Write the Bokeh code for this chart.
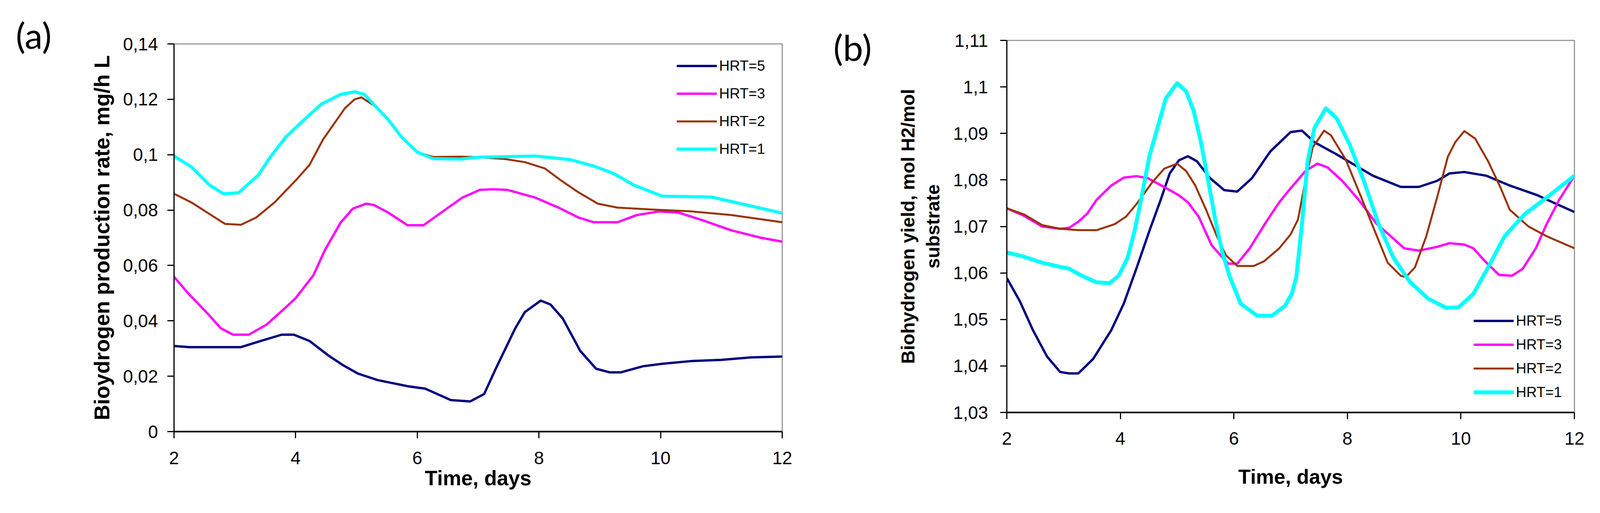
from bokeh.plotting import figure
from bokeh.models import FixedTicker, Legend, LegendItem, Range1d
from bokeh.embed import file_html
from bokeh.resources import INLINE

# ---------------- data: panel (a) ----------------
days_a_hrt5 = [2.0, 2.26, 3.1, 3.42, 3.77, 3.97, 4.23, 4.55, 4.77, 5.03, 5.35, 5.84, 6.13, 6.55, 6.87,
               7.1, 7.29, 7.61, 7.77, 8.03, 8.19, 8.39, 8.68, 8.94, 9.16, 9.35, 9.71, 10.03, 10.52,
               11.0, 11.48, 12.0]
rate_hrt5 = [0.0309, 0.0305, 0.0305, 0.0327, 0.035, 0.035, 0.0327, 0.0273, 0.0241, 0.0209, 0.0186,
             0.0164, 0.0155, 0.0114, 0.0109, 0.0136, 0.0227, 0.0373, 0.0432, 0.0473, 0.0459, 0.0409,
             0.0291, 0.0227, 0.0214, 0.0214, 0.0236, 0.0245, 0.0255, 0.0259, 0.0268, 0.0271]

days_a_hrt3 = [2.0, 2.23, 2.55, 2.77, 2.97, 3.23, 3.52, 3.87, 4.0, 4.29, 4.48, 4.74, 4.94, 5.16, 5.29,
               5.52, 5.84, 6.1, 6.42, 6.74, 7.03, 7.23, 7.48, 7.94, 8.32, 8.65, 8.9, 9.29, 9.61, 9.97,
               10.29, 10.68, 11.16, 11.65, 12.0]
rate_hrt3 = [0.0559, 0.05, 0.0427, 0.0373, 0.035, 0.035, 0.0386, 0.0455, 0.0482, 0.0564, 0.0655,
             0.0755, 0.0805, 0.0823, 0.0818, 0.0791, 0.0745, 0.0745, 0.0795, 0.0845, 0.0873, 0.0875,
             0.0873, 0.0845, 0.0809, 0.0773, 0.0756, 0.0756, 0.0782, 0.0795, 0.0791, 0.0764, 0.0727,
             0.07, 0.0686]

days_a_hrt2 = [2.0, 2.29, 2.61, 2.84, 3.1, 3.35, 3.65, 4.03, 4.23, 4.45, 4.68, 4.81, 4.97, 5.08, 5.32,
               5.52, 5.74, 6.0, 6.26, 6.71, 7.0, 7.45, 7.77, 8.1, 8.35, 8.65, 8.97, 9.29, 9.87, 10.52,
               11.16, 12.0]
rate_hrt2 = [0.0859, 0.0827, 0.0782, 0.075, 0.0747, 0.0773, 0.0827, 0.0914, 0.0964, 0.1055, 0.1127,
             0.1168, 0.12, 0.1207, 0.1173, 0.1127, 0.1064, 0.1009, 0.0992, 0.0993, 0.0991, 0.0984,
             0.0973, 0.095, 0.0909, 0.0864, 0.0823, 0.0809, 0.0802, 0.0795, 0.0782, 0.0756]

days_a_hrt1 = [2.0, 2.29, 2.58, 2.81, 3.06, 3.39, 3.58, 3.84, 4.1, 4.42, 4.74, 4.97, 5.13, 5.32, 5.52,
               5.74, 6.0, 6.26, 6.71, 7.03, 7.94, 8.52, 8.9, 9.23, 9.55, 10.03, 10.84, 11.32, 12.0]
rate_hrt1 = [0.0995, 0.0955, 0.0891, 0.0859, 0.0862, 0.0927, 0.0991, 0.1064, 0.1118, 0.1182, 0.1218,
             0.1227, 0.1218, 0.1173, 0.1127, 0.1064, 0.1009, 0.0986, 0.0984, 0.0991, 0.0995, 0.0982,
             0.0959, 0.0932, 0.0891, 0.085, 0.0847, 0.0823, 0.0789]

# ---------------- data: panel (b) ----------------
days_b_hrt5 = [2.0, 2.23, 2.46, 2.71, 2.94, 3.1, 3.26, 3.52, 3.84, 4.06, 4.29, 4.51, 4.71, 4.87, 5.03,
               5.19, 5.35, 5.58, 5.83, 6.06, 6.32, 6.64, 7.0, 7.2, 7.42, 7.81, 8.13, 8.45, 8.94, 9.26,
               9.58, 9.8, 10.06, 10.45, 10.86, 11.35, 11.67, 12.0]
yield_hrt5 = [1.0589, 1.0539, 1.0477, 1.042, 1.0387, 1.0384, 1.0384, 1.0415, 1.0477, 1.0534, 1.0612,
              1.069, 1.0757, 1.0814, 1.0842, 1.0851, 1.084, 1.0804, 1.0778, 1.0775, 1.0804, 1.0861,
              1.0903, 1.0906, 1.0881, 1.0855, 1.0832, 1.0809, 1.0785, 1.0785, 1.0798, 1.0814, 1.0817,
              1.0809, 1.0788, 1.0767, 1.0749, 1.0731]

days_b_hrt3 = [2.0, 2.3, 2.62, 2.94, 3.1, 3.26, 3.42, 3.58, 3.84, 4.06, 4.29, 4.48, 4.77, 5.03, 5.19,
               5.38, 5.61, 5.9, 6.06, 6.28, 6.57, 6.8, 7.0, 7.26, 7.47, 7.65, 7.91, 8.2, 8.52, 8.81,
               9.0, 9.26, 9.58, 9.8, 10.06, 10.22, 10.41, 10.67, 10.9, 11.09, 11.32, 11.51, 11.73, 12.0]
yield_hrt3 = [1.0739, 1.0723, 1.07, 1.0695, 1.0697, 1.071, 1.0728, 1.0757, 1.0788, 1.0805, 1.0808,
              1.0804, 1.0785, 1.0767, 1.0752, 1.0721, 1.0659, 1.062, 1.062, 1.0653, 1.071, 1.0752,
              1.0782, 1.0819, 1.0835, 1.0827, 1.0798, 1.0757, 1.0705, 1.0674, 1.0653, 1.0648, 1.0656,
              1.0664, 1.0661, 1.0653, 1.0627, 1.0596, 1.0594, 1.0609, 1.0653, 1.0705, 1.0757, 1.0809]

days_b_hrt2 = [2.0, 2.3, 2.62, 2.94, 3.26, 3.58, 3.9, 4.1, 4.29, 4.55, 4.77, 5.0, 5.16, 5.32, 5.51,
               5.7, 5.86, 6.06, 6.35, 6.53, 6.8, 7.0, 7.13, 7.26, 7.39, 7.59, 7.71, 7.97, 8.23, 8.45,
               8.71, 8.94, 9.03, 9.19, 9.39, 9.58, 9.77, 9.9, 10.06, 10.25, 10.48, 10.7, 10.86, 11.19,
               11.51, 12.0]
yield_hrt2 = [1.0739, 1.0726, 1.0703, 1.0695, 1.0692, 1.0692, 1.0705, 1.0721, 1.0749, 1.0793, 1.0824,
              1.0835, 1.0819, 1.0788, 1.0736, 1.0679, 1.0638, 1.0615, 1.0615, 1.0625, 1.0653, 1.0683,
              1.0715, 1.0798, 1.087, 1.0906, 1.0896, 1.0844, 1.0767, 1.07, 1.0622, 1.0594, 1.0591,
              1.0612, 1.0679, 1.0762, 1.085, 1.0881, 1.0905, 1.0889, 1.084, 1.0783, 1.0736, 1.07,
              1.0679, 1.0653]

days_b_hrt1 = [2.0, 2.3, 2.62, 2.94, 3.1, 3.32, 3.58, 3.81, 3.97, 4.13, 4.26, 4.39, 4.51, 4.68, 4.8,
               5.0, 5.16, 5.29, 5.42, 5.54, 5.67, 5.8, 5.93, 6.12, 6.41, 6.67, 6.9, 7.02, 7.1, 7.2,
               7.3, 7.42, 7.62, 7.81, 8.04, 8.29, 8.55, 8.81, 9.1, 9.42, 9.74, 9.96, 10.22, 10.48,
               10.77, 11.12, 11.51, 12.0]
yield_hrt1 = [1.0644, 1.0635, 1.0622, 1.0613, 1.0609, 1.0594, 1.058, 1.0578, 1.0594, 1.0633, 1.0695,
              1.0773, 1.085, 1.0923, 1.0975, 1.1008, 1.099, 1.0949, 1.0881, 1.0804, 1.0716, 1.0643,
              1.0591, 1.0534, 1.0508, 1.0508, 1.0529, 1.0555, 1.0591, 1.0705, 1.084, 1.0912, 1.0954,
              1.0933, 1.0876, 1.0798, 1.0705, 1.0633, 1.0581, 1.0545, 1.0525, 1.0526, 1.0555, 1.0612,
              1.0679, 1.0726, 1.0762, 1.0809]

series_names = ["HRT=5", "HRT=3", "HRT=2", "HRT=1"]
series_colors = ["#000080", "#FF00FF", "#993300", "#00FFFF"]

x_ticks = [2, 4, 6, 8, 10, 12]
y_ticks_a = [0, 0.02, 0.04, 0.06, 0.08, 0.1, 0.12, 0.14]
y_labels_a = ["0", "0,02", "0,04", "0,06", "0,08", "0,1", "0,12", "0,14"]
y_ticks_b = [1.03, 1.04, 1.05, 1.06, 1.07, 1.08, 1.09, 1.1, 1.11]
y_labels_b = ["1,03", "1,04", "1,05", "1,06", "1,07", "1,08", "1,09", "1,1", "1,11"]

TICK_FONT = "'Liberation Sans', Arial, sans-serif"
TITLE_FONT = "'Liberation Sans', Arial, sans-serif"


def style(p, yticks, ylabels, x_std, xlab_standoff, y_std, ylab_standoff):
    p.xaxis.ticker = FixedTicker(ticks=x_ticks)
    p.yaxis.ticker = FixedTicker(ticks=yticks)
    p.yaxis.major_label_overrides = {t: l for t, l in zip(yticks, ylabels)}
    p.xaxis.major_label_overrides = {t: str(t) for t in x_ticks}
    for ax in (p.xaxis[0], p.yaxis[0]):
        ax.axis_line_color = "black"
        ax.axis_line_width = 3
        ax.major_tick_line_color = "black"
        ax.major_tick_line_width = 3
        ax.major_tick_in = 0
        ax.major_tick_out = 17
        ax.minor_tick_line_color = None
        ax.major_label_text_font = TICK_FONT
        ax.major_label_text_font_size = "46px"
        ax.major_label_text_color = "black"
        ax.axis_label_text_font = TITLE_FONT
        ax.axis_label_text_font_style = "bold"
        ax.axis_label_text_color = "black"
    p.xaxis.axis_line_width = 4
    p.xaxis.major_label_standoff = x_std
    p.yaxis.major_label_standoff = y_std
    p.xaxis.axis_label_standoff = xlab_standoff
    p.yaxis.axis_label_standoff = ylab_standoff
    p.xgrid.grid_line_color = None
    p.ygrid.grid_line_color = None
    p.outline_line_color = "#9a9a9a"
    p.outline_line_width = 3
    p.background_fill_color = "white"
    p.border_fill_color = "white"
    p.title.text_font = "Lato"
    p.title.text_font_size = "92px"
    p.title.text_font_style = "normal"
    p.title.text_color = "black"
    p.title.align = "left"
    p.title.vertical_align = "bottom"


def make_legend(p, renderers, loc, gh, spacing):
    leg = Legend(items=[LegendItem(label=n, renderers=[r]) for n, r in zip(series_names, renderers)],
                 location=loc, orientation="vertical")
    leg.border_line_alpha = 0
    leg.background_fill_alpha = 0
    leg.padding = 0
    leg.margin = 0
    leg.glyph_width = 103
    leg.glyph_height = gh
    leg.label_height = gh
    leg.spacing = spacing
    leg.label_standoff = 6
    leg.label_text_font = TITLE_FONT
    leg.label_text_font_size = "37px"
    leg.label_text_color = "black"
    p.add_layout(leg)


# ---------------- panel (a) ----------------
p1 = figure(width=2092, height=1298, output_backend="svg", toolbar_location=None,
            x_range=Range1d(2, 12), y_range=Range1d(0, 0.14), title="(a)",
            min_border_left=437, min_border_right=80, min_border_top=104, min_border_bottom=201)
style(p1, y_ticks_a, y_labels_a, 34, 3, 24, 20)
p1.title.offset = -405
p1.title.standoff = -64
p1.xaxis.axis_label = "Time, days"
p1.yaxis.axis_label = "Bioydrogen production rate, mg/h L"
p1.xaxis.axis_label_text_font_size = "53px"
p1.yaxis.axis_label_text_font_size = "55px"

r_a = []
for d, v, c, w in [(days_a_hrt5, rate_hrt5, series_colors[0], 6),
                   (days_a_hrt3, rate_hrt3, series_colors[1], 6),
                   (days_a_hrt2, rate_hrt2, series_colors[2], 5),
                   (days_a_hrt1, rate_hrt1, series_colors[3], 8)]:
    r_a.append(p1.line(d, v, line_color=c, line_width=w, line_join="round"))
make_legend(p1, r_a, (1287, 702), 43, 28)

# ---------------- panel (b) ----------------
p2 = figure(width=2022, height=1298, output_backend="svg", toolbar_location=None,
            x_range=Range1d(2, 12), y_range=Range1d(1.03, 1.11), title="(b)",
            min_border_left=494, min_border_right=58, min_border_top=95, min_border_bottom=250)
style(p2, y_ticks_b, y_labels_b, 33, 50, 31, 22)
p2.title.offset = -444
p2.title.standoff = -144
p2.xaxis.axis_label = "Time, days"
p2.yaxis.axis_label = "Biohydrogen yield, mol H2/mol\nsubstrate"
p2.xaxis.axis_label_text_font_size = "52px"
p2.yaxis.axis_label_text_font_size = "48px"

r_b = []
for d, v, c, w in [(days_b_hrt5, yield_hrt5, series_colors[0], 6),
                   (days_b_hrt3, yield_hrt3, series_colors[1], 6),
                   (days_b_hrt2, yield_hrt2, series_colors[2], 5),
                   (days_b_hrt1, yield_hrt1, series_colors[3], 10)]:
    r_b.append(p2.line(d, v, line_color=c, line_width=w, line_join="round"))
make_legend(p2, r_b, (1195, 30), 43, 18)

page_style = """{% block postamble %}
<style>
  html { margin: 0 !important; padding: 0 !important; }
  body { margin: 8px !important; padding: 0 !important; display: flex !important;
         flex-direction: row !important; align-items: flex-start !important; height: auto !important; }
</style>
{% endblock %}"""

open("out.html", "w").write(file_html([p1, p2], INLINE, template=page_style))
